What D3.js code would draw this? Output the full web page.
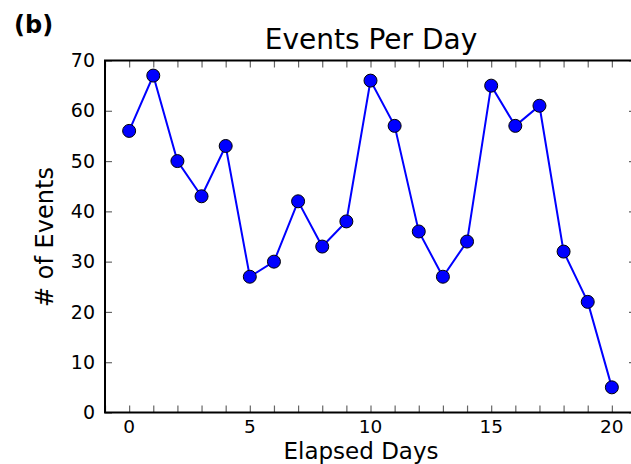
<!DOCTYPE html>
<html>
<head>
<meta charset="utf-8">
<script src="https://cdn.jsdelivr.net/npm/d3@7"></script>
<style>
    body { margin: 0; background: #fff; }
    svg { display: block; font-family: "DejaVu Sans", sans-serif; }
</style>
</head>
<body>
<svg id="chart" width="631" height="464"></svg>
<script>
// events per day, day 0 .. 20
const days = [0,1,2,3,4,5,6,7,8,9,10,11,12,13,14,15,16,17,18,19,20];
const events = [56,67,50,43,53,27,30,42,33,38,66,57,36,27,34,65,57,61,32,22,5];
const xTickLabels = [0,5,10,15,20];
const yTickLabels = [0,10,20,30,40,50,60,70];
const xMinorTicks = d3.range(-1, 22);

const buildVis = (svg_name) => {
    let chart = d3.select(svg_name);
    let margin = {left: 105, right: 636, top: 60.5, bottom: 412.5};

    let x = d3.scaleLinear().domain([-1, 21]).range([margin.left, margin.right]);
    let y = d3.scaleLinear().domain([0, 70]).range([margin.bottom, margin.top]);

    let tickColor = "#666";
    let tickLen = 7;

    // inward ticks on all four sides
    let bottomAxis = d3.axisBottom(x).tickValues(xMinorTicks).tickSize(-tickLen).tickFormat("");
    let topAxis = d3.axisTop(x).tickValues(xMinorTicks).tickSize(-tickLen).tickFormat("");
    let leftAxis = d3.axisLeft(y).tickValues(yTickLabels).tickSize(-tickLen).tickFormat("");
    let rightAxis = d3.axisRight(y).tickValues(yTickLabels).tickSize(-tickLen).tickFormat("");

    let axes = [
        [bottomAxis, "translate(0," + margin.bottom + ")"],
        [topAxis, "translate(0," + margin.top + ")"],
        [leftAxis, "translate(" + margin.left + ",0)"],
        [rightAxis, "translate(" + margin.right + ",0)"]
    ];
    axes.forEach((a) => {
        let g = chart.append("g").attr("transform", a[1]).call(a[0]);
        g.select(".domain").remove();
        g.selectAll(".tick line").attr("stroke", tickColor).attr("stroke-width", 1.2);
    });

    // tick labels
    chart.append("g").selectAll("text")
        .data(xTickLabels)
        .enter().append("text")
            .attr("x", (d) => x(d))
            .attr("y", 433)
            .attr("text-anchor", "middle")
            .style("font-size", "18.5px")
            .text((d) => d);

    chart.append("g").selectAll("text")
        .data(yTickLabels)
        .enter().append("text")
            .attr("x", margin.left - 10)
            .attr("y", (d) => y(d))
            .attr("dy", "0.35em")
            .attr("text-anchor", "end")
            .style("font-size", "19px")
            .text((d) => d);

    // frame
    chart.append("rect")
        .attr("x", margin.left)
        .attr("y", margin.top)
        .attr("width", margin.right - margin.left)
        .attr("height", margin.bottom - margin.top)
        .attr("fill", "none")
        .attr("stroke", "#000")
        .attr("stroke-width", 2);

    let data = days.map((d, i) => ({day: d, count: events[i]}));

    let line = d3.line()
        .x((d) => x(d.day))
        .y((d) => y(d.count));

    chart.append("path")
        .datum(data)
        .attr("d", line)
        .attr("fill", "none")
        .attr("stroke", "#0000ff")
        .attr("stroke-width", 2);

    chart.append("g").selectAll("circle")
        .data(data)
        .enter().append("circle")
            .attr("cx", (d) => x(d.day))
            .attr("cy", (d) => y(d.count))
            .attr("r", 6.5)
            .attr("fill", "#0000ff")
            .attr("stroke", "#000")
            .attr("stroke-width", 1);

    // titles
    chart.append("text")
        .attr("x", 371)
        .attr("y", 49)
        .attr("text-anchor", "middle")
        .style("font-size", "28px")
        .text("Events Per Day");

    chart.append("text")
        .attr("x", 361)
        .attr("y", 459)
        .attr("text-anchor", "middle")
        .style("font-size", "23px")
        .text("Elapsed Days");

    chart.append("text")
        .attr("transform", "translate(53,237) rotate(-90)")
        .attr("text-anchor", "middle")
        .style("font-size", "24px")
        .text("# of Events");

    chart.append("text")
        .attr("x", 14)
        .attr("y", 33)
        .style("font-size", "24px")
        .style("font-weight", "bold")
        .text("(b)");
}

buildVis("#chart");
</script>
</body>
</html>
